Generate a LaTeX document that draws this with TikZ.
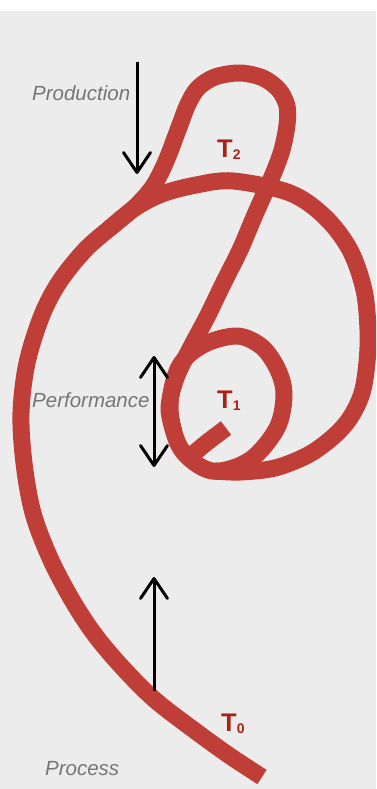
\documentclass[tikz,border=0pt]{standalone}
\usepackage{fontspec}
\setmainfont{Liberation Sans}
\usetikzlibrary{arrows.meta}
\definecolor{bandred}{RGB}{191,63,56}
\definecolor{labred}{RGB}{168,34,24}
\definecolor{bggray}{RGB}{236,236,236}
\definecolor{txtgray}{RGB}{118,118,118}
\tikzset{
 barb/.tip={Straight Barb[length=20pt,width=27pt,round]},
 band/.style={draw=bandred, line width=17pt, line join=round},
 phase/.style={font=\fontsize{20.5}{20.5}\selectfont\itshape, text=txtgray, inner sep=0pt, anchor=base west},
 tlabel/.style={font=\bfseries, text=labred, inner sep=0pt, anchor=base west},
 flow/.style={line width=3pt, draw=black},
}
\newcommand{\tsub}[1]{{\fontsize{25.5}{25.5}\selectfont T}{\fontsize{14}{14}\selectfont\raisebox{-2pt}{#1}}}
\begin{document}
\begin{tikzpicture}[x=1pt,y=-1pt]
\useasboundingbox (0,0) rectangle (376,789);
\fill[white] (0,0) rectangle (376,11);
\fill[bggray] (0,11) rectangle (376,789);
\begin{scope}
\clip (0,11) rectangle (376,789);
% main band: T0 end, up the left, big arc, into the small loop
\draw[band, line cap=butt] plot[smooth, tension=0.55] coordinates {
 (262,777) (230,756) (198,733) (155,700) (122,667) (95,635) (72,600) (50,558)
 (33,513) (24,463) (21,413) (27,363) (42,315) (60,281) (85,250) (110,228)
 (135,208) (162,194) (196,185) (233,181) (290,193) (325,217) (350,250)
 (364,290) (368,330) (367,362) (362,393) (350,418) (333,437) (308,455)
 (275,468) (240,472) (215,471)};
% T2 loop and diagonal
\draw[band, line cap=round] plot[smooth, tension=0.55] coordinates {
 (110,228) (135,207) (152,188) (162,170) (169,154) (175,138) (181,122)
 (188,104) (198,88) (215,77) (240,73) (263,78) (279,90) (287,106) (287,125)
 (282,150) (274,172) (266,190) (254,217) (240,250) (223,284) (207,317)
 (191,347) (176,378) (169,408) (174,432)};
% small loop T1
\draw[band] plot[smooth cycle, tension=0.55] coordinates {
 (237,336) (262,347) (278,370) (284,395) (277,428) (250,460) (212,471)
 (181,449) (170,408) (179,367) (203,345)};
% hook
\draw[band, line cap=butt] (192,455) .. controls (206,443) .. (226,428);
\end{scope}
% labels
\node[phase] (prod) at (32,101) {Production};
\node[phase] (perf) at (32,407) {Performance};
\node[phase] (proc) at (45,775) {Process};
\node[tlabel] (t2) at (217,157) {\tsub{2}};
\node[tlabel] (t1) at (217,408) {\tsub{1}};
\node[tlabel] (t0) at (221,731) {\tsub{0}};
% arrows
\coordinate (pa) at (137,62);
\coordinate (pb) at (137,174);
\coordinate (fa) at (154,356);
\coordinate (fb) at (154,467);
\coordinate (ra) at (154,691);
\coordinate (rb) at (154,577);
\draw[flow, -barb] (pa) -- (pb);
\draw[flow, barb-barb] (fa) -- (fb);
\draw[flow, -barb] (ra) -- (rb);
\end{tikzpicture}
\end{document}
